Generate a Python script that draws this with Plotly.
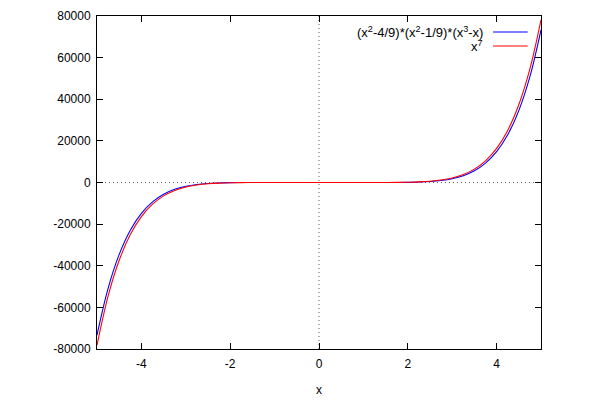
import plotly.graph_objects as go

# sample x positions
x_vals = [-5.0, -4.75, -4.5, -4.25, -4.0, -3.75, -3.5, -3.25, -3.0, -2.75, -2.5, -2.25, -2.0,
          -1.75, -1.5, -1.25, -1.0, -0.75, -0.5, -0.25, 0.0, 0.25, 0.5, 0.75, 1.0, 1.25, 1.5,
          1.75, 2.0, 2.25, 2.5, 2.75, 3.0, 3.25, 3.5, 3.75, 4.0, 4.25, 4.5, 4.75, 5.0]

# (x^2-4/9)*(x^2-1/9)*(x^3-x)
poly_vals = [-73340, -50860, -34552, -22935, -14830, -9306, -5643, -3286, -1825, -957, -467.8,
             -209, -83.0, -27.9, -7.24, -1.14, 0.0, 0.0175, -0.0101, 0.00435, 0.0, -0.00435,
             0.0101, -0.0175, 0.0, 1.14, 7.24, 27.9, 83.0, 209, 467.8, 957, 1825, 3286, 5643,
             9306, 14830, 22935, 34552, 50860, 73340]

# x^7
pow7_vals = [-78125, -54558, -37367, -25045, -16384, -10428, -6434, -3830, -2187, -1189, -610.4,
             -291.9, -128, -50.27, -17.09, -4.768, -1.0, -0.1335, -0.0078, -0.00006, 0.0, 0.00006,
             0.0078, 0.1335, 1.0, 4.768, 17.09, 50.27, 128, 291.9, 610.4, 1189, 2187, 3830, 6434,
             10428, 16384, 25045, 37367, 54558, 78125]

series_names = ["(x<sup>2</sup>-4/9)*(x<sup>2</sup>-1/9)*(x<sup>3</sup>-x)", "x<sup>7</sup>"]
series_colors = ["#0000ff", "#ff0000"]

x_ticks = [-4, -2, 0, 2, 4]
y_ticks = [-80000, -60000, -40000, -20000, 0, 20000, 40000, 60000, 80000]
x_title = "x"

fig = go.Figure()
for name, vals, col in zip(series_names, [poly_vals, pow7_vals], series_colors):
    fig.add_trace(go.Scatter(x=x_vals, y=vals, mode="lines", name=name,
                             line=dict(color=col, width=1.1, shape="spline"),
                             showlegend=False))

font = dict(family="Liberation Sans, Arial, sans-serif", size=12, color="black")
key_font = dict(family="Liberation Sans, Arial, sans-serif", size=13, color="black")

axis_common = dict(showline=True, linecolor="black", linewidth=1, mirror="ticks",
                   ticks="inside", ticklen=6, tickcolor="black", tickwidth=1,
                   showgrid=False, zeroline=False, tickfont=font, automargin=False)

fig.update_layout(
    width=600, height=400,
    margin=dict(l=97, r=59, t=16, b=51),
    paper_bgcolor="white", plot_bgcolor="white",
    font=font,
    xaxis=dict(range=[-5, 5], tickvals=x_ticks, ticktext=[str(t) for t in x_ticks],
               ticklabelstandoff=4, **axis_common),
    yaxis=dict(range=[-80000, 80000], tickvals=y_ticks, ticktext=[str(t) for t in y_ticks],
               ticklabelstandoff=3, **axis_common),
)

# x axis title
fig.add_annotation(xref="paper", yref="paper", x=0.5, y=-0.123, text=x_title,
                   showarrow=False, xanchor="center", yanchor="middle", font=font)

# dotted zero axes
fig.add_shape(type="line", xref="x", yref="paper", x0=0, x1=0, y0=0, y1=1,
              line=dict(color="#333333", width=0.8, dash="1px,3px"), layer="below")
fig.add_shape(type="line", xref="paper", yref="y", x0=0, x1=1, y0=0, y1=0,
              line=dict(color="#333333", width=0.8, dash="1px,3px"), layer="below")

# gnuplot-style key (text right-aligned, sample line on the right)
key_rows = [0.952, 0.91]
for name, col, yk in zip(series_names, series_colors, key_rows):
    fig.add_annotation(xref="paper", yref="paper", x=0.874, y=yk, text=name,
                       showarrow=False, xanchor="right", yanchor="middle", font=key_font)
    fig.add_shape(type="line", xref="paper", yref="paper", x0=0.892, x1=0.97, y0=yk, y1=yk,
                  line=dict(color=col, width=1.1))

fig.write_html("out.html")
